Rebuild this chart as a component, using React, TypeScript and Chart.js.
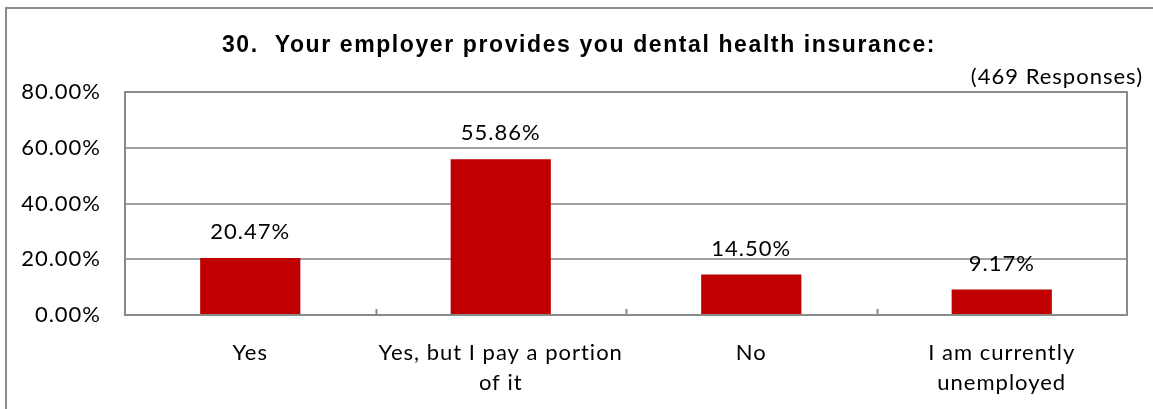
import React, { useEffect, useRef } from "react";
import { Chart, registerables } from "chart.js";

Chart.register(...registerables);

const TITLE = "30.  Your employer provides you dental health insurance:";
const SUBTITLE = "(469 Responses)";
const categories: (string | string[])[] = [
  "Yes",
  ["Yes, but I pay a portion", "of it"],
  "No",
  ["I am currently", "unemployed"],
];
const percentValues = [20.47, 55.86, 14.5, 9.17];
const valueLabels = ["20.47%", "55.86%", "14.50%", "9.17%"];
const yTickLabels: Record<number, string> = {
  0: "0.00%",
  20: "20.00%",
  40: "40.00%",
  60: "60.00%",
  80: "80.00%",
};

const BAR_COLOR = "#C00000";
const FRAME_COLOR = "#8a8a8a";
const GRID_COLOR = "#a0a0a0";
const TEXT_FONT = "Lato, 'Open Sans', sans-serif";
const TEXT_SIZE = 22;

const decorPlugin = {
  id: "decor",
  beforeDraw(chart: any) {
    const { ctx } = chart;
    ctx.save();
    ctx.fillStyle = "#ffffff";
    ctx.fillRect(0, 0, chart.width, chart.height);
    ctx.strokeStyle = FRAME_COLOR;
    ctx.lineWidth = 2;
    ctx.strokeRect(6, 8, chart.width + 50, chart.height + 50);
    // title
    ctx.fillStyle = "#000000";
    ctx.letterSpacing = "1.6px";
    ctx.font = "bold 23px 'Liberation Sans', Arial, sans-serif";
    ctx.textAlign = "center";
    ctx.textBaseline = "middle";
    ctx.fillText(TITLE, 579, 46);
    // subtitle
    ctx.letterSpacing = "1px";
    ctx.font = `${TEXT_SIZE}px ${TEXT_FONT}`;
    ctx.textAlign = "right";
    ctx.fillText(SUBTITLE, 1143, 77);
    ctx.restore();
    // slight tracking for axis labels, like the original rendering
    ctx.letterSpacing = "1px";
  },
  afterDraw(chart: any) {
    const { ctx, chartArea } = chart;
    const xs = chart.scales.x;
    ctx.save();
    // plot frame
    ctx.strokeStyle = FRAME_COLOR;
    ctx.lineWidth = 2;
    ctx.strokeRect(
      chartArea.left,
      chartArea.top,
      chartArea.right - chartArea.left,
      chartArea.bottom - chartArea.top
    );
    // category boundary tick marks pointing inward
    for (let i = 1; i < categories.length; i++) {
      const px = (xs.getPixelForValue(i - 1) + xs.getPixelForValue(i)) / 2;
      ctx.beginPath();
      ctx.moveTo(Math.round(px) + 0.5, chartArea.bottom);
      ctx.lineTo(Math.round(px) + 0.5, chartArea.bottom - 6);
      ctx.stroke();
    }
    // data labels
    const meta = chart.getDatasetMeta(0);
    ctx.fillStyle = "#000000";
    ctx.letterSpacing = "1px";
    ctx.font = `${TEXT_SIZE}px ${TEXT_FONT}`;
    ctx.textAlign = "center";
    ctx.textBaseline = "middle";
    meta.data.forEach((bar: any, i: number) => {
      ctx.fillText(valueLabels[i], bar.x, bar.y - 26);
    });
    ctx.restore();
    ctx.letterSpacing = "0px";
  },
};

export default function App() {
  const canvasRef = useRef<HTMLCanvasElement | null>(null);

  useEffect(() => {
    if (!canvasRef.current) return;
    const chart = new Chart(canvasRef.current, {
      type: "bar",
      data: {
        labels: categories,
        datasets: [
          {
            data: percentValues,
            backgroundColor: BAR_COLOR,
            borderWidth: 0,
            barPercentage: 0.4,
            categoryPercentage: 1,
          },
        ],
      },
      options: {
        responsive: false,
        animation: false,
        layout: { padding: { top: 92, right: 26, left: 0, bottom: 0 } },
        plugins: {
          legend: { display: false },
          tooltip: { enabled: false },
          title: { display: false },
        },
        scales: {
          x: {
            grid: { display: false },
            border: { display: false },
            ticks: {
              color: "#000000",
              font: { family: TEXT_FONT, size: TEXT_SIZE, lineHeight: 1.36 },
              padding: 15,
              maxRotation: 0,
              autoSkip: false,
            },
            afterFit(scale: any) {
              scale.height = 94;
            },
          },
          y: {
            min: 0,
            max: 80,
            grid: {
              color: GRID_COLOR,
              lineWidth: 2,
              drawTicks: false,
            },
            border: { display: false },
            ticks: {
              stepSize: 20,
              color: "#000000",
              font: { family: TEXT_FONT, size: TEXT_SIZE },
              padding: 24,
              callback: (v: any) => yTickLabels[Number(v)] ?? "",
            },
            afterFit(scale: any) {
              scale.width = 125;
            },
          },
        },
      },
      plugins: [decorPlugin],
    });
    return () => chart.destroy();
  }, []);

  return (
    <div style={{ position: "fixed", left: 0, top: 0, width: 1153, height: 409, background: "#fff" }}>
      <canvas ref={canvasRef} width={1153} height={409} />
    </div>
  );
}
